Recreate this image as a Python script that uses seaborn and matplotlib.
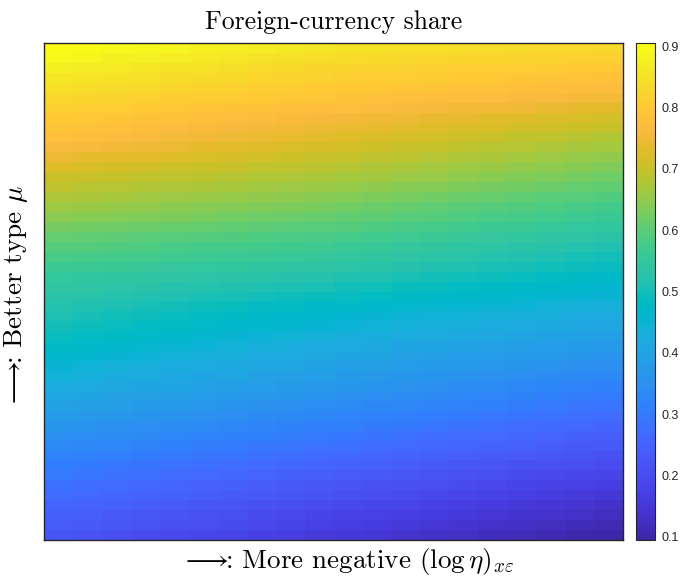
import numpy as np
import pandas as pd
import matplotlib
matplotlib.use("Agg")
import matplotlib.pyplot as plt
from matplotlib.colors import LinearSegmentedColormap
import seaborn as sns

# Foreign-currency share on a 50 (type mu, best at top) x 20 (log eta) grid
share_rows = [
    [.905, .900, .894, .889, .884, .879, .873, .868, .863, .858, .854, .851, .848, .846, .843, .841, .838, .835, .833, .830],
    [.890, .885, .879, .874, .869, .864, .858, .853, .848, .843, .839, .836, .833, .831, .828, .826, .823, .820, .818, .815],
    [.875, .870, .864, .859, .854, .849, .843, .838, .833, .828, .824, .821, .818, .816, .813, .811, .808, .805, .803, .800],
    [.860, .855, .851, .846, .841, .836, .832, .827, .822, .817, .813, .810, .807, .804, .801, .798, .794, .791, .788, .785],
    [.845, .840, .836, .831, .826, .821, .817, .812, .807, .802, .798, .795, .792, .789, .786, .783, .779, .776, .773, .770],
    [.830, .826, .822, .817, .813, .809, .805, .801, .796, .792, .788, .784, .781, .777, .773, .770, .766, .762, .759, .755],
    [.815, .811, .807, .802, .798, .794, .790, .786, .781, .777, .773, .769, .764, .760, .756, .752, .748, .743, .739, .735],
    [.800, .796, .792, .787, .783, .779, .775, .771, .766, .762, .758, .753, .748, .743, .739, .734, .729, .724, .720, .715],
    [.790, .785, .781, .776, .771, .766, .762, .757, .752, .747, .743, .738, .733, .728, .724, .719, .714, .709, .705, .700],
    [.780, .775, .769, .764, .759, .754, .748, .743, .738, .733, .727, .722, .717, .712, .706, .701, .696, .691, .685, .680],
    [.765, .760, .754, .749, .744, .739, .733, .728, .723, .718, .712, .707, .702, .697, .691, .686, .681, .676, .670, .665],
    [.745, .740, .736, .731, .726, .721, .717, .712, .707, .702, .697, .692, .687, .682, .676, .671, .666, .661, .655, .650],
    [.725, .721, .717, .712, .708, .704, .700, .696, .691, .687, .682, .677, .672, .667, .661, .656, .651, .646, .640, .635],
    [.705, .701, .698, .694, .690, .687, .683, .679, .676, .672, .667, .662, .657, .652, .646, .641, .636, .631, .625, .620],
    [.690, .686, .683, .679, .675, .672, .668, .664, .661, .657, .652, .647, .642, .637, .631, .626, .621, .616, .610, .605],
    [.675, .671, .668, .664, .660, .657, .653, .649, .646, .642, .637, .632, .627, .622, .616, .611, .606, .601, .595, .590],
    [.660, .656, .653, .649, .645, .642, .638, .634, .631, .627, .622, .617, .612, .607, .601, .596, .591, .586, .580, .575],
    [.645, .641, .638, .634, .630, .627, .623, .619, .616, .612, .607, .602, .597, .592, .586, .581, .576, .571, .565, .560],
    [.625, .622, .619, .616, .612, .609, .606, .603, .600, .597, .592, .587, .582, .577, .571, .566, .561, .556, .550, .545],
    [.610, .607, .604, .601, .597, .594, .591, .588, .585, .582, .577, .572, .567, .562, .556, .551, .546, .541, .535, .530],
    [.595, .592, .589, .586, .582, .579, .576, .573, .570, .567, .562, .557, .552, .547, .541, .536, .531, .526, .520, .515],
    [.580, .577, .574, .571, .567, .564, .561, .558, .555, .552, .547, .542, .537, .532, .526, .521, .516, .511, .505, .500],
    [.565, .562, .559, .556, .552, .549, .546, .543, .540, .537, .533, .528, .523, .518, .514, .509, .504, .499, .495, .490],
    [.550, .547, .544, .541, .537, .534, .531, .528, .525, .522, .518, .513, .508, .503, .499, .494, .489, .484, .480, .475],
    [.540, .536, .533, .529, .525, .522, .518, .514, .511, .507, .503, .498, .493, .488, .484, .479, .474, .469, .465, .460],
    [.530, .526, .522, .517, .513, .509, .505, .501, .496, .492, .488, .484, .479, .475, .471, .467, .463, .458, .454, .450],
    [.520, .515, .511, .506, .501, .496, .492, .487, .482, .477, .473, .469, .464, .460, .456, .452, .448, .443, .439, .435],
    [.510, .505, .499, .494, .489, .484, .478, .473, .468, .463, .458, .454, .449, .445, .441, .437, .433, .428, .424, .420],
    [.500, .495, .489, .484, .479, .474, .468, .463, .458, .453, .448, .443, .438, .433, .429, .424, .419, .414, .410, .405],
    [.490, .484, .478, .473, .467, .461, .455, .449, .444, .438, .433, .428, .423, .418, .414, .409, .404, .399, .395, .390],
    [.480, .474, .467, .461, .455, .448, .442, .436, .429, .423, .418, .413, .408, .403, .399, .394, .389, .384, .380, .375],
    [.465, .459, .453, .448, .442, .436, .430, .424, .419, .413, .407, .402, .397, .392, .386, .381, .376, .371, .365, .360],
    [.450, .444, .438, .433, .427, .421, .415, .409, .404, .398, .392, .387, .382, .377, .371, .366, .361, .356, .350, .345],
    [.440, .434, .427, .421, .415, .408, .402, .396, .389, .383, .377, .372, .367, .362, .356, .351, .346, .341, .335, .330],
    [.425, .419, .413, .408, .402, .396, .390, .384, .379, .373, .367, .361, .356, .350, .344, .338, .332, .327, .321, .315],
    [.410, .404, .398, .393, .387, .381, .375, .369, .364, .358, .352, .346, .341, .335, .329, .323, .317, .312, .306, .300],
    [.395, .389, .383, .378, .372, .366, .360, .354, .349, .343, .337, .331, .326, .320, .314, .308, .302, .297, .291, .285],
    [.380, .374, .368, .363, .357, .351, .345, .339, .334, .328, .322, .316, .311, .305, .299, .293, .287, .282, .276, .270],
    [.365, .359, .353, .348, .342, .336, .330, .324, .319, .313, .307, .301, .296, .290, .284, .278, .272, .267, .261, .255],
    [.350, .344, .338, .333, .327, .321, .315, .309, .304, .298, .292, .286, .281, .275, .269, .263, .257, .252, .246, .240],
    [.335, .329, .323, .318, .312, .306, .300, .294, .289, .283, .277, .271, .266, .260, .254, .248, .242, .237, .231, .225],
    [.320, .314, .308, .303, .297, .291, .285, .279, .274, .268, .262, .256, .251, .245, .239, .233, .227, .222, .216, .210],
    [.305, .299, .293, .288, .282, .276, .270, .264, .259, .253, .247, .241, .236, .230, .224, .218, .212, .207, .201, .195],
    [.295, .289, .282, .276, .270, .263, .257, .251, .244, .238, .232, .226, .221, .215, .209, .203, .197, .192, .186, .180],
    [.280, .274, .267, .261, .255, .248, .242, .236, .229, .223, .217, .211, .206, .200, .194, .188, .182, .177, .171, .165],
    [.270, .264, .257, .251, .245, .238, .232, .226, .219, .213, .207, .201, .194, .188, .182, .175, .169, .163, .156, .150],
    [.255, .249, .242, .236, .230, .223, .217, .211, .204, .198, .192, .186, .179, .173, .167, .160, .154, .148, .141, .135],
    [.245, .238, .231, .224, .218, .211, .204, .197, .190, .183, .177, .171, .166, .160, .154, .148, .142, .137, .131, .125],
    [.235, .228, .221, .214, .208, .201, .194, .187, .180, .173, .167, .161, .154, .148, .142, .135, .129, .123, .116, .110],
    [.220, .213, .206, .199, .193, .186, .179, .172, .165, .158, .152, .146, .139, .133, .127, .120, .114, .108, .101, .095],
]
cbar_ticks = [0.1, 0.2, 0.3, 0.4, 0.5, 0.6, 0.7, 0.8, 0.9]

title_text = "Foreign-currency share"
xlabel_text = r"$\longrightarrow\!\!$: More negative $(\log\eta)_{x\varepsilon}$"
ylabel_text = r"$\longrightarrow\!\!$: Better type $\mu$"

# parula colour table (64 entries)
parula_rgb = [
    (0.2422, 0.1504, 0.6603), (0.2504, 0.1650, 0.7076), (0.2578, 0.1818, 0.7511), (0.2647, 0.1978, 0.7952),
    (0.2706, 0.2147, 0.8364), (0.2751, 0.2342, 0.8710), (0.2783, 0.2559, 0.8991), (0.2803, 0.2782, 0.9221),
    (0.2813, 0.3006, 0.9414), (0.2810, 0.3228, 0.9579), (0.2795, 0.3447, 0.9717), (0.2760, 0.3667, 0.9829),
    (0.2699, 0.3892, 0.9906), (0.2602, 0.4123, 0.9952), (0.2440, 0.4358, 0.9988), (0.2206, 0.4603, 0.9973),
    (0.1963, 0.4847, 0.9892), (0.1834, 0.5074, 0.9798), (0.1786, 0.5289, 0.9682), (0.1764, 0.5499, 0.9520),
    (0.1687, 0.5703, 0.9359), (0.1540, 0.5902, 0.9218), (0.1460, 0.6091, 0.9079), (0.1380, 0.6276, 0.8973),
    (0.1248, 0.6459, 0.8883), (0.1113, 0.6635, 0.8763), (0.0952, 0.6798, 0.8598), (0.0689, 0.6948, 0.8394),
    (0.0297, 0.7082, 0.8163), (0.0036, 0.7203, 0.7917), (0.0067, 0.7312, 0.7660), (0.0433, 0.7411, 0.7394),
    (0.0964, 0.7500, 0.7120), (0.1408, 0.7584, 0.6842), (0.1717, 0.7670, 0.6554), (0.1938, 0.7758, 0.6251),
    (0.2161, 0.7843, 0.5923), (0.2470, 0.7918, 0.5567), (0.2906, 0.7973, 0.5188), (0.3406, 0.8008, 0.4789),
    (0.3909, 0.8029, 0.4354), (0.4456, 0.8024, 0.3909), (0.5044, 0.7993, 0.3480), (0.5616, 0.7942, 0.3045),
    (0.6174, 0.7876, 0.2612), (0.6720, 0.7793, 0.2227), (0.7242, 0.7698, 0.1910), (0.7738, 0.7598, 0.1646),
    (0.8203, 0.7498, 0.1535), (0.8634, 0.7406, 0.1596), (0.9035, 0.7330, 0.1774), (0.9393, 0.7288, 0.2100),
    (0.9728, 0.7298, 0.2394), (0.9956, 0.7434, 0.2371), (0.9970, 0.7659, 0.2199), (0.9952, 0.7893, 0.2028),
    (0.9892, 0.8136, 0.1885), (0.9794, 0.8386, 0.1766), (0.9697, 0.8639, 0.1643), (0.9624, 0.8901, 0.1516),
    (0.9588, 0.9177, 0.1406), (0.9598, 0.9463, 0.1278), (0.9682, 0.9743, 0.1082), (0.9769, 0.9839, 0.0805),
]
parula = LinearSegmentedColormap.from_list("parula", parula_rgb, N=256)

sns.set_style("white")
plt.rcParams["mathtext.fontset"] = "cm"

share = pd.DataFrame(np.array(share_rows))

fig = plt.figure(figsize=(6.86, 5.76), dpi=100)
ax = fig.add_axes([44 / 686, 1 - 540 / 576, (623 - 44) / 686, (540 - 43) / 576])
cax = fig.add_axes([636 / 686, 1 - 540 / 576, 19 / 686, (540 - 43) / 576])

sns.heatmap(share, ax=ax, cbar_ax=cax, cmap=parula, xticklabels=False,
            yticklabels=False, linewidths=0, rasterized=True)

for sp in ax.spines.values():
    sp.set_visible(True)
    sp.set_color("#262626")
    sp.set_linewidth(1.0)

cb = ax.collections[0].colorbar
cb.outline.set_visible(True)
cb.outline.set_linewidth(0.8)
cb.outline.set_edgecolor("#262626")
cb.set_ticks(cbar_ticks)
cb.set_ticklabels([f"{t:.1f}" for t in cbar_ticks])
cax.yaxis.set_ticks_position("right")
cax.tick_params(axis="y", direction="in", length=3, width=0.8, color="#404040",
                labelsize=9, labelcolor="#262626", pad=5)
for lbl in cax.get_yticklabels():
    lbl.set_fontfamily("Liberation Sans")

cm_font = ["cmr10"]
ax.set_title(title_text, fontsize=18.5, family=cm_font, pad=10, color="black")
ax.set_xlabel(xlabel_text, fontsize=19.5, family=cm_font, color="black")
ax.set_ylabel(ylabel_text, fontsize=19.5, family=cm_font, color="black")
ax.xaxis.set_label_coords(0.524, -0.012, transform=ax.transAxes)
ax.xaxis.label.set_va("top")
ax.yaxis.set_label_coords(-0.024, 0.49, transform=ax.transAxes)

fig.savefig("out.png", dpi=100, facecolor="white")
